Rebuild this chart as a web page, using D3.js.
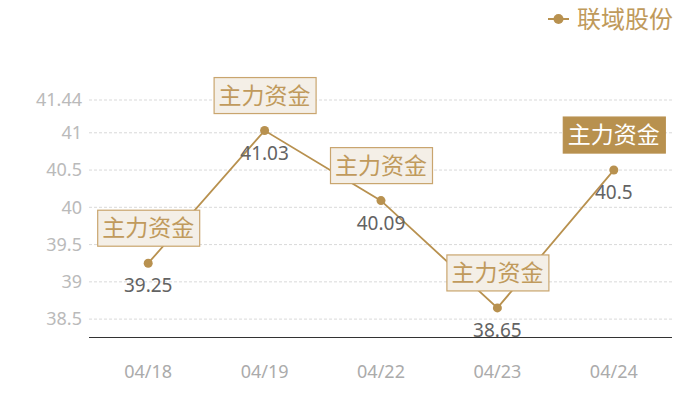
<!DOCTYPE html>
<html><head><meta charset="utf-8">
<script src="https://cdn.jsdelivr.net/npm/d3@7"></script>
<style>body{margin:0;background:#fff}svg{display:block}</style>
</head><body><svg id="c" width="700" height="400"></svg>
<script>
const categories = ["04/18","04/19","04/22","04/23","04/24"];
const values = [39.25,41.03,40.09,38.65,40.5];
const seriesName = "联域股份";
const markText = "主力资金";
const yTicks = [38.5,39,39.5,40,40.5,41,41.44];
const yDomain = [38.26,41.44];

const W=700,H=400;
const m={l:90,r:28,t:100,b:63};
const font='"Noto Sans","Noto Sans CJK SC",sans-serif';
const gold="#b8914f";
const svg=d3.select("#c");
const x=d3.scaleBand().domain(categories).range([m.l,W-m.r]);
const y=d3.scaleLinear().domain(yDomain).range([H-m.b,m.t]);

// grid
svg.append("g").selectAll("line").data(yTicks).join("line")
  .attr("x1",m.l-1).attr("x2",W-m.r)
  .attr("y1",d=>y(d)).attr("y2",d=>y(d))
  .attr("stroke","#d9d9d9").attr("stroke-dasharray","3,2").attr("stroke-width",1);
// y labels
svg.append("g").selectAll("text").data(yTicks).join("text")
  .attr("x",m.l-8).attr("y",d=>y(d)).attr("dy","0.35em")
  .attr("text-anchor","end").attr("font-family",font).attr("font-size",18)
  .attr("fill","#bababa").text(d=>d);
// x axis
svg.append("line").attr("x1",m.l-1).attr("x2",W-m.r).attr("y1",H-m.b+0.5).attr("y2",H-m.b+0.5)
  .attr("stroke","#333").attr("stroke-width",1);
svg.append("g").selectAll("text").data(categories).join("text")
  .attr("x",d=>x(d)+x.bandwidth()/2).attr("y",H-m.b+35).attr("dy","0.35em")
  .attr("text-anchor","middle").attr("font-family",font).attr("font-size",18)
  .attr("fill","#ababab").text(d=>d);

const pts=categories.map((c,i)=>({c,v:values[i],px:x(c)+x.bandwidth()/2,py:y(values[i])}));
// line
svg.append("path").datum(pts)
  .attr("d",d3.line().x(d=>d.px).y(d=>d.py))
  .attr("fill","none").attr("stroke",gold).attr("stroke-width",1.8);
svg.append("g").selectAll("circle").data(pts).join("circle")
  .attr("cx",d=>d.px).attr("cy",d=>d.py).attr("r",4.5).attr("fill",gold);

// value labels
svg.append("g").selectAll("text").data(pts).join("text")
  .attr("x",d=>d.px).attr("y",d=>d.py+29)
  .attr("text-anchor","middle").attr("font-family",font).attr("font-size",19)
  .attr("fill","#636363").text(d=>d.v);

// mark boxes
const fs=23,bw=4*fs+10,bh=36;
const g=svg.append("g").selectAll("g").data(pts).join("g")
  .attr("transform",d=>`translate(${d.px},${d.py-17-bh/2})`);
g.append("rect").attr("x",-bw/2+0.5).attr("y",-bh/2).attr("width",bw).attr("height",bh)
  .attr("fill",(d,i)=>i===pts.length-1?gold:"#f4efe7")
  .attr("stroke",(d,i)=>i===pts.length-1?gold:"#c9a56e").attr("stroke-width",1.2);
g.append("text").attr("text-anchor","middle").attr("dy","0.36em")
  .attr("font-family",font).attr("font-size",fs)
  .attr("fill",(d,i)=>i===pts.length-1?"#fff":"#c09a5c").text(markText);

// legend
const lg=svg.append("g");
lg.append("line").attr("x1",548).attr("x2",569).attr("y1",19).attr("y2",19).attr("stroke",gold).attr("stroke-width",2);
lg.append("circle").attr("cx",558.5).attr("cy",19).attr("r",5).attr("fill",gold);
lg.append("text").attr("x",577).attr("y",19).attr("dy","0.36em").attr("font-family",font)
  .attr("font-size",24).attr("fill","#bf9a5b").text(seriesName);
</script></body></html>
